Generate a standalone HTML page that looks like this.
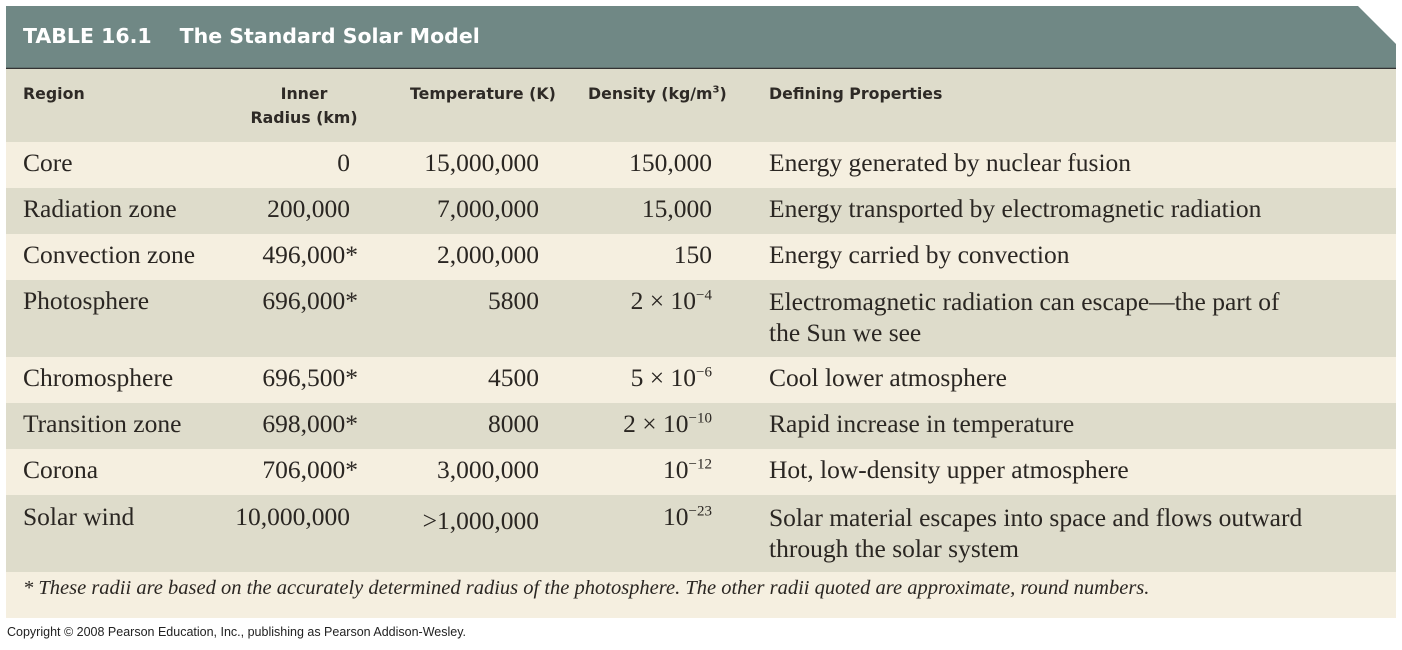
<!DOCTYPE html>
<html><head><meta charset="utf-8"><style>
body{margin:0;width:1402px;height:650px;background:#fff;position:relative;overflow:hidden;font-family:"Liberation Serif",serif;color:#2a2622}
.a{position:absolute;white-space:nowrap}
.row{position:absolute;left:6px;width:1390px}
.s{font-size:25.5px;line-height:30px}
.h{font-family:"DejaVu Sans","Liberation Sans",sans-serif;font-weight:bold;font-size:15.8px;color:#2e2a26;line-height:24px}
.r{text-align:right}
sup{font-size:15px;line-height:0}
</style></head><body>
<svg class="a" style="left:0;top:0" width="1402" height="70"><polygon points="6,6 1358,6 1396,44 1396,68 6,68" fill="#708885"/><line x1="6" y1="68.5" x2="1396" y2="68.5" stroke="#333" stroke-width="1.5"/></svg>
<div class="a" style="left:23px;top:24px;font-family:'DejaVu Sans','Liberation Sans',sans-serif;font-weight:bold;font-size:20.5px;color:#fff">TABLE 16.1<span style="display:inline-block;width:28px"></span>The Standard Solar Model</div>
<div class="row" style="top:69px;height:73px;background:#dedccb"></div>
<div class="row" style="top:142px;height:46px;background:#f5efe0"></div>
<div class="row" style="top:188px;height:46px;background:#dedccb"></div>
<div class="row" style="top:234px;height:46px;background:#f5efe0"></div>
<div class="row" style="top:280px;height:77px;background:#dedccb"></div>
<div class="row" style="top:357px;height:46px;background:#f5efe0"></div>
<div class="row" style="top:403px;height:46px;background:#dedccb"></div>
<div class="row" style="top:449px;height:46px;background:#f5efe0"></div>
<div class="row" style="top:495px;height:77px;background:#dedccb"></div>
<div class="row" style="top:572px;height:46px;background:#f5efe0"></div>

<div class="a h" style="left:23px;top:82px">Region</div>
<div class="a h" style="left:250px;width:108px;top:82px;text-align:center">Inner<br>Radius (km)</div>
<div class="a h" style="left:410px;top:82px">Temperature (K)</div>
<div class="a h" style="left:588px;top:82px">Density (kg/m<sup style="font-size:10px">3</sup>)</div>
<div class="a h" style="left:769px;top:82px">Defining Properties</div>

<div class="a s" style="left:23px;top:148px">Core</div>
<div class="a s r" style="right:1052px;top:148px">0</div>
<div class="a s r" style="right:863px;top:148px">15,000,000</div>
<div class="a s r" style="right:690px;top:148px">150,000</div>
<div class="a s" style="left:769px;top:148px">Energy generated by nuclear fusion</div>

<div class="a s" style="left:23px;top:194px">Radiation zone</div>
<div class="a s r" style="right:1052px;top:194px">200,000</div>
<div class="a s r" style="right:863px;top:194px">7,000,000</div>
<div class="a s r" style="right:690px;top:194px">15,000</div>
<div class="a s" style="left:769px;top:194px">Energy transported by electromagnetic radiation</div>

<div class="a s" style="left:23px;top:240px">Convection zone</div>
<div class="a s r" style="right:1044px;top:240px">496,000*</div>
<div class="a s r" style="right:863px;top:240px">2,000,000</div>
<div class="a s r" style="right:690px;top:240px">150</div>
<div class="a s" style="left:769px;top:240px">Energy carried by convection</div>

<div class="a s" style="left:23px;top:286px">Photosphere</div>
<div class="a s r" style="right:1044px;top:286px">696,000*</div>
<div class="a s r" style="right:863px;top:286px">5800</div>
<div class="a s r" style="right:690px;top:286px">2 × 10<sup>−4</sup></div>
<div class="a s" style="left:769px;top:286px;line-height:31px">Electromagnetic radiation can escape—the part of<br>the Sun we see</div>

<div class="a s" style="left:23px;top:363px">Chromosphere</div>
<div class="a s r" style="right:1044px;top:363px">696,500*</div>
<div class="a s r" style="right:863px;top:363px">4500</div>
<div class="a s r" style="right:690px;top:363px">5 × 10<sup>−6</sup></div>
<div class="a s" style="left:769px;top:363px">Cool lower atmosphere</div>

<div class="a s" style="left:23px;top:409px">Transition zone</div>
<div class="a s r" style="right:1044px;top:409px">698,000*</div>
<div class="a s r" style="right:863px;top:409px">8000</div>
<div class="a s r" style="right:690px;top:409px">2 × 10<sup>−10</sup></div>
<div class="a s" style="left:769px;top:409px">Rapid increase in temperature</div>

<div class="a s" style="left:23px;top:455px">Corona</div>
<div class="a s r" style="right:1044px;top:455px">706,000*</div>
<div class="a s r" style="right:863px;top:455px">3,000,000</div>
<div class="a s r" style="right:690px;top:455px">10<sup>−12</sup></div>
<div class="a s" style="left:769px;top:455px">Hot, low-density upper atmosphere</div>

<div class="a s" style="left:23px;top:502px">Solar wind</div>
<div class="a s r" style="right:1052px;top:502px">10,000,000</div>
<div class="a s r" style="right:863px;top:506px">&gt;1,000,000</div>
<div class="a s r" style="right:690px;top:502px">10<sup>−23</sup></div>
<div class="a s" style="left:769px;top:502px;line-height:31px">Solar material escapes into space and flows outward<br>through the solar system</div>

<div class="a" style="left:23px;top:577px;font-size:20.5px;font-style:italic">* These radii are based on the accurately determined radius of the photosphere. The other radii quoted are approximate, round numbers.</div>
<div class="a" style="left:7px;top:625px;font-family:'Liberation Sans',sans-serif;font-size:12.5px;color:#222">Copyright © 2008 Pearson Education, Inc., publishing as Pearson Addison-Wesley.</div>
</body></html>
